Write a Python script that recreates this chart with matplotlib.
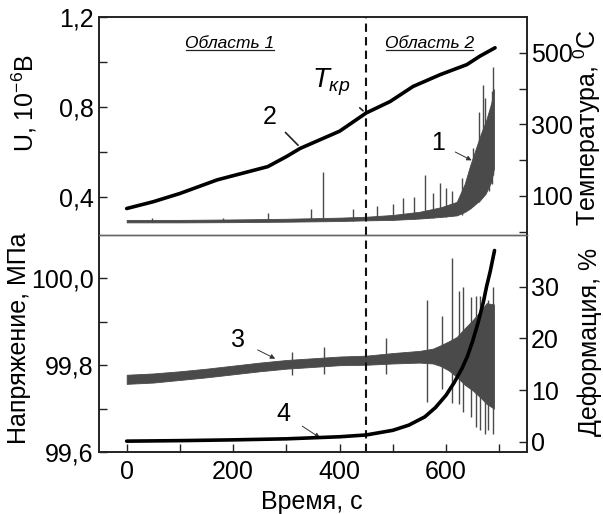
import numpy as np
import matplotlib
matplotlib.use("Agg")
import matplotlib.pyplot as plt
from matplotlib.lines import Line2D
from matplotlib.ticker import FixedLocator, FixedFormatter, NullFormatter

plt.rcParams['font.family'] = ['Liberation Sans', 'DejaVu Sans']
plt.rcParams['mathtext.fontset'] = 'custom'
plt.rcParams['mathtext.rm'] = 'Liberation Sans'
plt.rcParams['mathtext.it'] = 'Liberation Sans:italic'

# ---------------- data ----------------
# curve 2: temperature, deg C
time_T = [0, 50, 100, 170, 265, 300, 326, 400, 450, 495, 538, 589, 639, 664, 692]
temp_T = [65, 84, 107, 145, 182, 210, 233, 281, 332, 364, 406, 439, 467, 491, 514]

# curve 1: signal U (1e-6 V), noisy band envelope
time_U = [0, 100, 200, 300, 400, 450, 500, 550, 590, 620, 635, 645, 655, 665, 675, 685, 690]
U_lo = [0.289, 0.289, 0.290, 0.292, 0.295, 0.298, 0.300, 0.306, 0.313, 0.320, 0.335, 0.350, 0.370, 0.390, 0.420, 0.470, 0.530]
U_hi = [0.300, 0.300, 0.302, 0.305, 0.310, 0.314, 0.322, 0.336, 0.356, 0.380, 0.460, 0.540, 0.610, 0.680, 0.740, 0.820, 0.880]
# curve 1 spikes
spU_t = [47, 180, 265, 347, 369, 425, 470, 500, 520, 540, 560, 575, 589, 600, 612, 629, 650, 662, 670, 674, 680, 686, 689]
spU_lo = [0.292, 0.292, 0.293, 0.294, 0.294, 0.296, 0.298, 0.300, 0.302, 0.304, 0.307, 0.309, 0.312, 0.314, 0.316, 0.320, 0.36, 0.38, 0.40, 0.41, 0.43, 0.46, 0.50]
spU_hi = [0.310, 0.310, 0.330, 0.350, 0.514, 0.348, 0.360, 0.370, 0.396, 0.400, 0.499, 0.420, 0.462, 0.440, 0.430, 0.484, 0.620, 0.780, 0.898, 0.839, 0.760, 0.870, 0.980]

# curve 3: stress (MPa), noisy band envelope
time_S = [0, 50, 100, 150, 200, 250, 300, 350, 400, 450, 500, 550, 575, 590, 605, 620, 635, 650, 665, 676, 690]
S_lo = [99.757, 99.760, 99.766, 99.772, 99.779, 99.786, 99.792, 99.796, 99.800, 99.801, 99.804, 99.806, 99.804, 99.798, 99.788, 99.773, 99.755, 99.742, 99.725, 99.711, 99.700]
S_hi = [99.778, 99.781, 99.786, 99.792, 99.799, 99.806, 99.812, 99.816, 99.820, 99.822, 99.828, 99.833, 99.838, 99.846, 99.855, 99.865, 99.885, 99.904, 99.925, 99.943, 99.940]
# curve 3 spikes
spS_t = [311, 371, 488, 565, 592, 612, 625, 632, 646, 656, 664, 673, 678, 689]
spS_lo = [99.777, 99.779, 99.779, 99.715, 99.746, 99.712, 99.711, 99.692, 99.681, 99.658, 99.650, 99.642, 99.650, 99.642]
spS_hi = [99.831, 99.841, 99.862, 99.950, 99.913, 100.048, 99.971, 99.981, 99.958, 99.960, 99.960, 99.934, 99.950, 99.980]

# curve 4: deformation, %
time_D = [0, 100, 200, 300, 400, 450, 500, 530, 560, 580, 600, 615, 630, 640, 650, 660, 670, 676, 683, 691]
defo_D = [0.1, 0.2, 0.35, 0.55, 0.95, 1.3, 2.2, 3.2, 4.8, 6.6, 9.0, 11.4, 14.2, 16.5, 19.5, 23.0, 27.0, 30.0, 33.0, 37.0]

t_crit = 450

x_ticks = [0, 200, 400, 600]
x_minor = [100, 300, 500, 700]
U_ticks = [0.4, 0.8, 1.2]
U_ticklabels = ['0,4', '0,8', '1,2']
U_minor = [0.6, 1.0]
T_ticks = [100, 300, 500]
T_minor = [0, 200, 400]
S_ticks = [99.6, 99.8, 100.0]
S_ticklabels = ['99,6', '99,8', '100,0']
S_minor = [99.7, 99.9]
D_ticks = [0, 10, 20, 30]

# ---------------- figure ----------------
fig = plt.figure(figsize=(6.03, 5.14), dpi=100)
L, W = 99 / 603, 428 / 603
axT = fig.add_axes([L, 279 / 514, W, 218 / 514])
axB = fig.add_axes([L, 62 / 514, W, 217 / 514])
axTr = axT.twinx()
axBr = axB.twinx()

noise_c = '#4a4a4a'
frame_c = '#222222'
fs_tick = 18

# top panel
axT.fill_between(time_U, U_lo, U_hi, color=noise_c, lw=0.6, edgecolor=noise_c)
axT.vlines(spU_t, spU_lo, spU_hi, color=noise_c, lw=1.0)
axTr.plot(time_T, temp_T, color='black', lw=2.6, solid_capstyle='round', solid_joinstyle='round')

# bottom panel
axB.fill_between(time_S, S_lo, S_hi, color=noise_c, lw=0.6, edgecolor=noise_c)
axB.vlines(spS_t, spS_lo, spS_hi, color=noise_c, lw=1.0)
axBr.plot(time_D, defo_D, color='black', lw=2.6, solid_capstyle='round', solid_joinstyle='round')

for ax in (axT, axB):
    ax.axvline(t_crit, color='#111111', lw=1.5, ls=(0, (4, 2.5)))

for ax in (axT, axB, axTr, axBr):
    ax.set_xlim(-52, 752)
    for s in ax.spines.values():
        s.set_linewidth(1.2)
        s.set_color(frame_c)
axT.set_ylim(0.233, 1.2)
axTr.set_ylim(-9, 600)
axB.set_ylim(99.6, 100.1)
axBr.set_ylim(-2, 40)

# spines between panels
for ax in (axT, axTr):
    ax.spines['bottom'].set_visible(False)
for ax in (axB, axBr):
    ax.spines['top'].set_color('#666666')
    ax.spines['top'].set_linewidth(1.0)

# ticks
axT.tick_params(axis='x', which='both', bottom=False, labelbottom=False)
axTr.tick_params(axis='x', which='both', bottom=False, labelbottom=False)
axB.xaxis.set_major_locator(FixedLocator(x_ticks))
axB.xaxis.set_minor_locator(FixedLocator(x_minor))
axB.tick_params(axis='x', which='both', direction='in', length=6, width=1.0,
                color=frame_c, labelsize=fs_tick, pad=6)

axT.yaxis.set_major_locator(FixedLocator(U_ticks))
axT.yaxis.set_major_formatter(FixedFormatter(U_ticklabels))
axT.yaxis.set_minor_locator(FixedLocator(U_minor))
axTr.yaxis.set_major_locator(FixedLocator(T_ticks))
axTr.yaxis.set_minor_locator(FixedLocator(T_minor))
axB.yaxis.set_major_locator(FixedLocator(S_ticks))
axB.yaxis.set_major_formatter(FixedFormatter(S_ticklabels))
axB.yaxis.set_minor_locator(FixedLocator(S_minor))
axBr.yaxis.set_major_locator(FixedLocator(D_ticks))
axBr.yaxis.set_minor_locator(FixedLocator([]))
for ax in (axT, axB):
    ax.tick_params(axis='y', which='both', direction='in', length=6, width=1.0,
                   color=frame_c, labelsize=fs_tick, pad=4)
for ax in (axTr, axBr):
    ax.tick_params(axis='y', which='both', direction='in', length=6, width=1.0,
                   color=frame_c, labelsize=fs_tick, pad=3)

# axis labels
fs_lab = 18
fig.text(24 / 603, 1 - 103 / 514, 'U, 10$^{-6}$В', rotation=90, ha='center', va='center', fontsize=fs_lab)
fig.text(587 / 603, 1 - 128 / 514, 'Температура, $^{0}$C', rotation=90, ha='center', va='center', fontsize=fs_lab)
fig.text(19 / 603, 1 - 338 / 514, 'Напряжение, МПа', rotation=90, ha='center', va='center', fontsize=fs_lab)
fig.text(590 / 603, 1 - 342 / 514, 'Деформация, %', rotation=90, ha='center', va='center', fontsize=fs_lab)
fig.text(312 / 603, 1 - 502 / 514, 'Время, с', ha='center', va='center', fontsize=fs_lab)

# region captions
r1 = axT.text(194, 1.083, 'Область 1', style='italic', fontsize=12.5, ha='center', va='center')
r2 = axT.text(569, 1.083, 'Область 2', style='italic', fontsize=12.5, ha='center', va='center')

# curve labels
fs_num = 18
axT.annotate('2', xy=(322, 0.631), xytext=(269, 0.758), fontsize=fs_num, ha='center', va='center',
             arrowprops=dict(arrowstyle='-', lw=1.2, color='#222222', shrinkA=6, shrinkB=0))
axT.annotate('$T_{кр}$', xy=(444, 0.784), xytext=(384, 0.912), fontsize=20, ha='center', va='center',
             arrowprops=dict(arrowstyle='-', lw=1.2, color='#222222', shrinkA=8, shrinkB=0))
axT.annotate('1', xy=(648, 0.564), xytext=(585, 0.640), fontsize=fs_num, ha='center', va='center',
             arrowprops=dict(arrowstyle='-|>', lw=0.7, color='#333333', mutation_scale=7, shrinkA=6, shrinkB=0))
axB.annotate('3', xy=(279, 99.815), xytext=(209, 99.858), fontsize=fs_num, ha='center', va='center',
             arrowprops=dict(arrowstyle='-|>', lw=0.7, color='#333333', mutation_scale=7, shrinkA=8, shrinkB=0))
axB.annotate('4', xy=(363, 99.633), xytext=(294, 99.688), fontsize=fs_num, ha='center', va='center',
             arrowprops=dict(arrowstyle='-|>', lw=0.7, color='#333333', mutation_scale=7, shrinkA=8, shrinkB=0))

# underline region captions
fig.canvas.draw()
rend = fig.canvas.get_renderer()
inv = fig.transFigure.inverted()
for t in (r1, r2):
    bb = t.get_window_extent(rend)
    (x0, y0), (x1, _) = inv.transform([(bb.x0 + 1, bb.y0 + 1), (bb.x1 - 1, bb.y0 + 1)])
    fig.add_artist(Line2D([x0, x1], [y0, y0], transform=fig.transFigure, color='#222222', lw=0.9))

fig.savefig('out.png', dpi=100)
